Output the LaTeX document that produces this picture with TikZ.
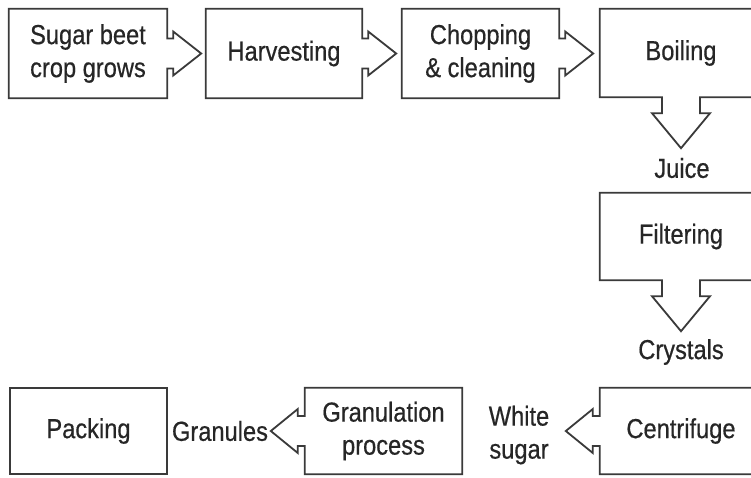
\documentclass[tikz,border=0pt]{standalone}
\usepackage{fontspec}
\setmainfont[FakeStretch=0.86,FakeBold=0.5]{Liberation Sans}
\usetikzlibrary{calc}
\definecolor{ink}{HTML}{262626}
\definecolor{edge}{HTML}{3A3A3A}
\tikzset{
  boxnode/.style={rectangle, draw=none, inner sep=0pt, align=center, text=ink,
    font=\fontsize{27.5}{33}\selectfont},
  lbl/.style={inner sep=0pt, align=center, text=ink, font=\fontsize{27.5}{33}\selectfont},
  outl/.style={draw=edge, line width=1.8pt, line join=miter},
}
% arrow segments (pixel coords, y downwards)
\newcommand\arrR[1]{-- ($(#1.east)+(0,-15)$) -- ++(6,0) -- ++(0,-7) -- ($(#1.east)+(34,0)$) -- ($(#1.east)+(6,22)$) -- ++(0,-7) -- ($(#1.east)+(0,15)$)}
\newcommand\arrD[1]{-- ($(#1.south)+(19,0)$) -- ++(0,16) -- ++(10,0) -- ($(#1.south)+(0,51)$) -- ($(#1.south)+(-29,16)$) -- ++(10,0) -- ($(#1.south)+(-19,0)$)}
\newcommand\arrL[1]{-- ($(#1.west)+(0,15)$) -- ++(-7,0) -- ++(0,7) -- ($(#1.west)+(-34,0)$) -- ($(#1.west)+(-7,-22)$) -- ++(0,7) -- ($(#1.west)+(0,-15)$)}
\begin{document}
\begin{tikzpicture}[x=1pt,y=-1pt]
\useasboundingbox (0,0) rectangle (751,477);
\clip (0,0) rectangle (751,477);
\fill[white] (0,0) rectangle (751,477);

% nodes
\node[boxnode, minimum width=158, minimum height=89] (b1) at (88,53.5) {Sugar beet\\crop grows};
\node[boxnode, minimum width=156, minimum height=89] (b2) at (284,53.5) {Harvesting};
\node[boxnode, minimum width=157, minimum height=89] (b3) at (480.5,53.5) {Chopping\\\& cleaning};
\node[boxnode, minimum width=162, minimum height=88] (b4) at (681,53) {Boiling};
\node[boxnode, minimum width=162, minimum height=87] (b5) at (681,236.5) {Filtering};
\node[boxnode, minimum width=162, minimum height=86] (b6) at (681,431) {Centrifuge};
\node[boxnode, minimum width=157, minimum height=86] (b7) at (383.5,431) {Granulation\\process};
\node[boxnode, minimum width=157, minimum height=86] (b8) at (88.5,431) {Packing};

\node[lbl] (juice) at (682,168) {Juice};
\node[lbl] (crys) at (681,352) {Crystals};
\node[lbl] (wsug) at (519,435) {White\\sugar};
\node[lbl] (gran) at (220,431) {Granules};

% outlines with attached arrows
\draw[outl] (b1.north west) -- (b1.north east) \arrR{b1} -- (b1.south east) -- (b1.south west) -- cycle;
\draw[outl] (b2.north west) -- (b2.north east) \arrR{b2} -- (b2.south east) -- (b2.south west) -- cycle;
\draw[outl] (b3.north west) -- (b3.north east) \arrR{b3} -- (b3.south east) -- (b3.south west) -- cycle;
\draw[outl] (b4.north west) -- (b4.north east) -- (b4.south east) \arrD{b4} -- (b4.south west) -- cycle;
\draw[outl] (b5.north west) -- (b5.north east) -- (b5.south east) \arrD{b5} -- (b5.south west) -- cycle;
\draw[outl] (b6.north west) -- (b6.north east) -- (b6.south east) -- (b6.south west) \arrL{b6} -- cycle;
\draw[outl] (b7.north west) -- (b7.north east) -- (b7.south east) -- (b7.south west) \arrL{b7} -- cycle;
\draw[outl] (b8.north west) rectangle (b8.south east);
\end{tikzpicture}
\end{document}
